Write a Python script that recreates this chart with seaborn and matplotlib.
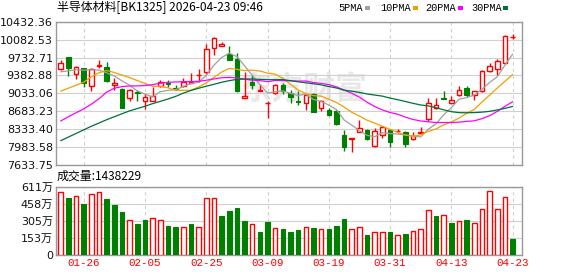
import matplotlib
matplotlib.use("Agg")
import matplotlib.pyplot as plt
from matplotlib.patches import Rectangle
import seaborn as sns
import numpy as np

# ---- data (prices in points, volume in 万) ----
dates = ["01-21", "01-22", "01-23", "01-26", "01-27", "01-28", "01-29", "01-30", "02-02", "02-03",
         "02-04", "02-05", "02-06", "02-09", "02-10", "02-11", "02-12", "02-13", "02-24", "02-25",
         "02-26", "02-27", "03-02", "03-03", "03-04", "03-05", "03-06", "03-09", "03-10", "03-11",
         "03-12", "03-13", "03-16", "03-17", "03-18", "03-19", "03-20", "03-23", "03-24", "03-25",
         "03-26", "03-27", "03-30", "03-31", "04-01", "04-02", "04-03", "04-07", "04-08", "04-09",
         "04-10", "04-13", "04-14", "04-15", "04-16", "04-17", "04-20", "04-21", "04-22", "04-23"]
tick_dates = ["01-26", "02-05", "02-25", "03-09", "03-19", "03-31", "04-13", "04-23"]

opens = [9505, 9742, 9409, 9524, 9172, 9576, 9550, 9198, 9121, 8941,
         9050, 8884, 8890, 9185, 9243, 9146, 9179, 9240, 9383, 9441,
         9909, 9966, 9794, 9697, 8948, 9262, 9076, 8839, 9038, 9198,
         9044, 8884, 8852, 9025, 8755, 8704, 8691, 8224, 8147, 8275,
         8320, 7999, 8224, 8320, 8294, 8275, 8147, 8262, 8531, 8755,
         8941, 8852, 9005, 9140, 9005, 9076, 9467, 9505, 9633, 10130]
highs = [9685, 9742, 9569, 9537, 9537, 9678, 9646, 9332, 9134, 9121,
         9089, 9012, 9153, 9294, 9300, 9204, 9326, 9428, 9505, 9999,
         10133, 10037, 9954, 9813, 9441, 9396, 9217, 8877, 9217, 9230,
         9101, 9070, 9012, 9038, 8896, 8749, 8717, 8320, 8160, 8512,
         8333, 8352, 8397, 8333, 8339, 8301, 8275, 8384, 8948, 8948,
         9070, 8986, 9185, 9185, 9082, 9492, 9633, 9697, 10165, 10184]
lows = [9492, 9377, 9313, 9166, 9070, 9537, 9262, 9089, 8749, 8877,
        8884, 8736, 8884, 9153, 9153, 9089, 9166, 9230, 9249, 9409,
        9774, 9954, 9678, 9057, 8948, 9121, 9076, 8557, 9012, 9012,
        8845, 8800, 8704, 8666, 8691, 8589, 8422, 7916, 7890, 8275,
        8128, 7980, 8160, 7986, 8256, 7980, 8128, 8262, 8493, 8736,
        8928, 8852, 8980, 8960, 8896, 9057, 9441, 9396, 9633, 10101]
closes = [9620, 9537, 9556, 9230, 9518, 9595, 9268, 9243, 8755, 9101,
          9031, 8967, 8973, 9255, 9223, 9114, 9262, 9255, 9396, 9890,
          10114, 10005, 9684, 9070, 8986, 9198, 9089, 8852, 9198, 9070,
          8960, 8871, 8993, 8672, 8877, 8608, 8429, 7980, 8160, 8352,
          8141, 8301, 8371, 8076, 8307, 8044, 8204, 8275, 8852, 8813,
          8928, 8896, 9108, 9005, 9082, 9473, 9569, 9665, 10146, 10140]
volumes = [560, 509, 524, 455, 542, 560, 500, 445, 382, 316,
           274, 310, 334, 316, 256, 247, 253, 274, 253, 506,
           506, 346, 391, 418, 301, 280, 208, 292, 244, 229,
           202, 220, 253, 238, 235, 229, 256, 319, 235, 253,
           175, 208, 208, 202, 181, 184, 217, 235, 406, 346,
           361, 283, 307, 310, 289, 415, 569, 415, 515, 143.8]

ma5 = [9454, 9473, 9492, 9486, 9492, 9487, 9433, 9371, 9276, 9192,
       9080, 9019, 8965, 9065, 9090, 9106, 9165, 9222, 9250, 9383,
       9583, 9732, 9818, 9753, 9572, 9389, 9205, 9039, 9065, 9081,
       9034, 8990, 9018, 8913, 8875, 8804, 8716, 8513, 8411, 8306,
       8212, 8187, 8265, 8248, 8239, 8220, 8200, 8181, 8336, 8438,
       8614, 8753, 8919, 8950, 9004, 9113, 9247, 9359, 9587, 9799]
ma10 = [9076, 9133, 9191, 9249, 9358, 9435, 9479, 9441, 9390, 9342,
        9283, 9226, 9168, 9171, 9141, 9093, 9092, 9094, 9158, 9237,
        9345, 9449, 9520, 9501, 9478, 9486, 9469, 9428, 9409, 9327,
        9211, 9098, 9029, 8989, 8978, 8919, 8853, 8766, 8662, 8590,
        8508, 8451, 8389, 8330, 8273, 8216, 8194, 8223, 8292, 8338,
        8417, 8477, 8550, 8643, 8721, 8864, 9000, 9139, 9269, 9401]
ma20 = [8493, 8576, 8653, 8730, 8820, 8928, 9057, 9133, 9165, 9178,
        9178, 9185, 9204, 9230, 9249, 9255, 9262, 9262, 9268, 9289,
        9314, 9338, 9344, 9336, 9309, 9290, 9281, 9261, 9283, 9282,
        9278, 9273, 9274, 9245, 9228, 9203, 9161, 9097, 9035, 8958,
        8860, 8775, 8709, 8659, 8625, 8568, 8523, 8494, 8477, 8464,
        8463, 8464, 8470, 8486, 8497, 8540, 8597, 8681, 8780, 8870]
ma30 = [8108, 8179, 8249, 8320, 8390, 8454, 8518, 8576, 8634, 8691,
        8736, 8781, 8832, 8877, 8922, 8973, 9037, 9089, 9133, 9172,
        9210, 9249, 9281, 9306, 9313, 9313, 9306, 9300, 9300, 9302,
        9280, 9258, 9239, 9220, 9199, 9166, 9138, 9096, 9076, 9051,
        9021, 8999, 8979, 8940, 8909, 8874, 8838, 8806, 8788, 8752,
        8712, 8675, 8656, 8654, 8657, 8666, 8682, 8709, 8741, 8777]

price_ticks = [7633.75, 7983.58, 8333.40, 8683.23, 9033.06, 9382.88, 9732.71, 10082.53, 10432.36]
vol_ticks = [0, 153, 305, 458, 611]
vol_labels = ["0", "153万", "305万", "458万", "611万"]

ma_names = ["5PMA", "10PMA", "20PMA", "30PMA"]
ma_colors = ["#a0a0a0", "#f0a000", "#ff00ff", "#00703a"]

RED, GREEN = "#ff0000", "#008000"
FRAME, GRID = "#999999", "#d0d0d0"

sns.set_style("white")
plt.rcParams["font.family"] = ["DejaVu Sans", "Noto Sans CJK SC"]
cjk = ["Noto Sans CJK SC", "DejaVu Sans"]
mono = ["Liberation Mono", "Noto Sans CJK SC"]

W, H = 578, 276
fig = plt.figure(figsize=(W / 100, H / 100), dpi=100)


def box(l, t, r, b):
    return [l / W, 1 - b / H, (r - l) / W, (b - t) / H]


ax = fig.add_axes(box(55.7, 21.7, 521.7, 165))
axv = fig.add_axes(box(55.7, 186.7, 521.7, 255))

x = np.arange(len(dates))
o, h, lo, c = (np.array(a, dtype=float) for a in (opens, highs, lows, closes))
up = c >= o
tick_pos = [dates.index(d) for d in tick_dates]

# watermark
ax.text(0.53, 0.52, "东方财富", transform=ax.transAxes, fontsize=23, fontweight="bold",
        color="#e8e8e8", ha="center", va="center", family=cjk, zorder=0)

# candles
ax.vlines(x, lo, h, colors=np.where(up, RED, GREEN), lw=1, zorder=3)
body = np.maximum(np.abs(c - o), 10)
bottom = np.minimum(o, c)
ax.bar(x[up], body[up], bottom=bottom[up], width=0.6, facecolor="white",
       edgecolor=RED, lw=1, zorder=4)
ax.bar(x[~up], body[~up], bottom=bottom[~up], width=0.6, facecolor=GREEN,
       edgecolor=GREEN, lw=0.8, zorder=4)

for vals, col in zip([ma5, ma10, ma20, ma30], ma_colors):
    sns.lineplot(x=x, y=vals, ax=ax, color=col, lw=0.9, zorder=5)

ax.set_ylim(price_ticks[0], price_ticks[-1])
ax.set_yticks(price_ticks)
ax.set_yticklabels([f"{t:.2f}" for t in price_ticks], fontsize=8, color="#111111")

# volume, coloured by close versus previous close
vol = np.array(volumes, dtype=float)
vol_up = np.r_[c[0] >= o[0], c[1:] >= c[:-1]]
axv.bar(x[vol_up], vol[vol_up], width=0.6, facecolor="white", edgecolor=RED, lw=1, zorder=3)
axv.bar(x[~vol_up], vol[~vol_up], width=0.6, facecolor=GREEN, edgecolor=GREEN, lw=0.8, zorder=3)
axv.set_ylim(0, 611)
axv.set_yticks(vol_ticks)
axv.set_yticklabels(vol_labels, fontsize=8, color="#111111")

for a in (ax, axv):
    a.set_xlim(-0.65, 60.18)
    a.set_xticks(tick_pos)
    a.grid(axis="y", color=GRID, lw=0.8)
    a.grid(axis="x", color=GRID, lw=0.8, ls=(0, (3, 3)))
    a.tick_params(length=0, pad=2)
    a.set_xlabel("")
    a.set_ylabel("")
    for s in a.spines.values():
        s.set_color(FRAME)
        s.set_linewidth(1)
ax.set_xticklabels([])
axv.set_xticklabels(tick_dates, fontsize=7.8, color=RED, family=["Liberation Mono"])

# header texts
fig.text(57 / W, 1 - 8 / H, "半导体材料[BK1325] 2026-04-23 09:46", fontsize=8.6,
         family=cjk, color="#000000", va="center", ha="left")
fig.text(57 / W, 1 - 176 / H, "成交量:1438229", fontsize=8.6,
         family=cjk, color="#000000", va="center", ha="left")

# MA legend
leg_x = [338, 380, 425, 471]
sq_x = [365, 413, 458, 503]
for name, col, tx, sx in zip(ma_names, ma_colors, leg_x, sq_x):
    fig.text(tx / W, 1 - 8 / H, name, fontsize=7.4, family=mono, color="#000000",
             va="center", ha="left")
    fig.add_artist(Rectangle((sx / W, 1 - 9.5 / H), 5 / W, 3.5 / H, transform=fig.transFigure,
                             facecolor=col, edgecolor="none"))

fig.savefig("out.png", dpi=100)
